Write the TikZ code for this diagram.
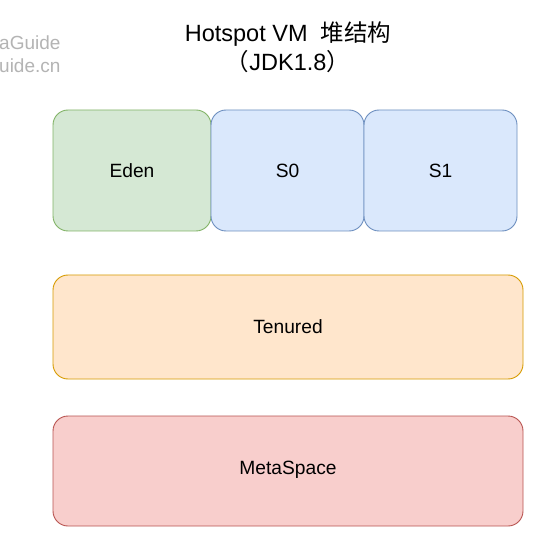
\documentclass[tikz,border=0pt]{standalone}
\usepackage{fontspec}
\setmainfont{Liberation Sans}
\newfontfamily\cjk{Noto Sans CJK SC}
\definecolor{edenfill}{HTML}{D5E8D4}
\definecolor{edenline}{HTML}{82B366}
\definecolor{sfill}{HTML}{DAE8FC}
\definecolor{sline}{HTML}{6C8EBF}
\definecolor{tfill}{HTML}{FFE6CC}
\definecolor{tline}{HTML}{D79B00}
\definecolor{mfill}{HTML}{F8CECC}
\definecolor{mline}{HTML}{B85450}
\definecolor{wmark}{HTML}{B4B4B4}
\begin{document}
\begin{tikzpicture}[x=1pt,y=-1pt,
  region/.style={draw, line width=0.9pt, rounded corners=15pt},
  lbl/.style={inner sep=0pt, font=\fontsize{19.2}{22}\selectfont},
  wm/.style={anchor=west, text=wmark, inner sep=0pt, font=\fontsize{19}{22}\selectfont},
  title/.style={font=\fontsize{23.5}{29}\selectfont, align=center, inner sep=0pt}]
\useasboundingbox (0,0) rectangle (546,537);
\fill[white] (0,0) rectangle (546,537);
% watermark
\node[wm] (wm1) at (-1,43) {aGuide};
\node[wm] (wm2) at (-1,66) {uide.cn};
% title
\node[title] (title) at (288,47) {Hotspot VM\ \ {\cjk 堆结构}\\{\cjk （}JDK1.8{\cjk ）}};
% regions
\path[region, fill=edenfill, draw=edenline] (53,110) rectangle (211,231);
\node[lbl] (eden) at (132,170.5) {Eden};
\path[region, fill=sfill, draw=sline] (211,110) rectangle (364,231);
\node[lbl] (s0) at (287.5,170.5) {S0};
\path[region, fill=sfill, draw=sline] (364,110) rectangle (517,231);
\node[lbl] (s1) at (440.5,170.5) {S1};
\path[region, fill=tfill, draw=tline] (53,275) rectangle (523,379);
\node[lbl] (tenured) at (288,327) {Tenured};
\path[region, fill=mfill, draw=mline] (53,416) rectangle (523,526);
\node[lbl] (meta) at (288,470) {MetaSpace};
\end{tikzpicture}
\end{document}
